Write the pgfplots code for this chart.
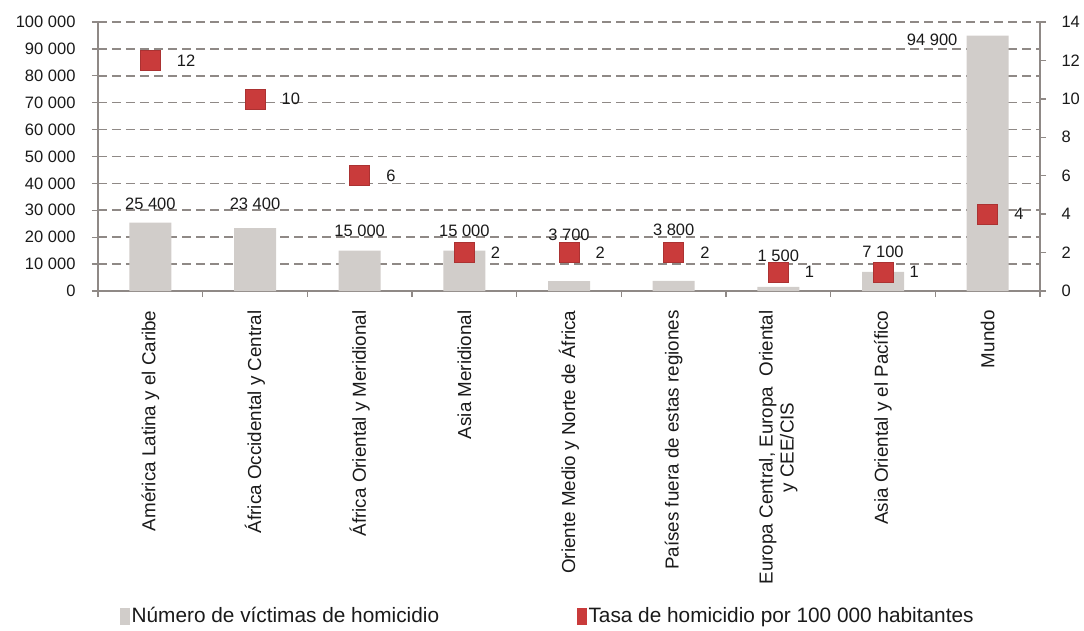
\documentclass[border=0pt]{standalone}
\usepackage{pgfplots}
\pgfplotsset{compat=1.18}
\usepackage{fontspec}
\setmainfont{Liberation Sans}
\definecolor{barcol}{HTML}{D1CDCA}
\definecolor{mkcol}{HTML}{C93B3B}
\definecolor{axcol}{HTML}{8F8986}
\definecolor{txt}{HTML}{1A1A1A}
\begin{document}
\begin{tikzpicture}
\useasboundingbox (-98pt,-340pt) rectangle (986pt,291pt);
\pgfplotsset{
  common/.style={
    scale only axis, width=942pt, height=269pt,
    xmin=-0.5, xmax=8.5,
    /pgf/number format/assume math mode=true,
    axis line style={axcol, line width=1.6pt},
    tick style={axcol, line width=1.3pt},
    tick align=outside,
    major tick length=6pt,
    minor tick length=6pt,
  },
}
\begin{axis}[common,
  axis y line*=left, axis x line*=bottom,
  ymin=0, ymax=100000,
  ytick={0,10000,...,100000},
  scaled y ticks=false,
  /pgf/number format/fixed,
  /pgf/number format/1000 sep={\ },
  yticklabel style={font=\fontsize{16.5}{18}\selectfont, text=txt},
  yticklabel shift=13pt,
  ymajorgrids,
  grid style={axcol, line width=1.6pt, dash pattern=on 9pt off 5pt},
  xtick={0,...,8},
  xticklabels={América Latina y el Caribe, África Occidental y Central, África Oriental y Meridional, Asia Meridional, Oriente Medio y Norte de África, Países fuera de estas regiones, {Europa Central, Europa\ \ Oriental\\y CEE/CIS}, Asia Oriental y el Pacífico, Mundo},
  major x tick style={draw=none},
  minor xtick={-0.5,0.5,...,8.5},
  xticklabel style={rotate=90, anchor=east, align=center, font=\fontsize{18.8}{21}\selectfont, text=txt},
  xticklabel shift=10pt,
]
\addplot[ybar, bar width=42pt, fill=barcol, draw=none] coordinates {
  (0,25400) (1,23400) (2,15000) (3,15000) (4,3700) (5,3800) (6,1500) (7,7100) (8,94900)};
\begin{scope}[every node/.style={font=\fontsize{16.5}{18}\selectfont, text=txt}]
\node at (axis cs:0,32500) {25 400};
\node at (axis cs:1,32500) {23 400};
\node at (axis cs:2,22300) {15 000};
\node at (axis cs:3,22300) {15 000};
\node at (axis cs:4,21000) {3 700};
\node at (axis cs:5,22860) {3 800};
\node at (axis cs:6,13100) {1 500};
\node at (axis cs:7,14600) {7 100};
\node at (axis cs:7.47,93300) {94 900};
\end{scope}
\end{axis}
\begin{axis}[common,
  axis y line*=right, axis x line=none,
  ymin=0, ymax=14, ytick={0,2,...,14},
  yticklabel style={font=\fontsize{16.5}{18}\selectfont, text=txt},
  yticklabel shift=12pt,
  legend style={at={(axis description cs:0.0202,-1.208)}, anchor=west, draw=none, fill=none,
    legend columns=2, font=\fontsize{20.8}{23}\selectfont, text=txt,
    /tikz/every even column/.append style={column sep=136pt}},
]
\addlegendimage{legend image code/.code={\fill[barcol] (0pt,-8pt) rectangle (9pt,8pt);}}
\addlegendentry{Número de víctimas de homicidio}
\addlegendimage{legend image code/.code={\fill[mkcol] (0pt,-8pt) rectangle (9pt,8pt);}}
\addlegendentry{Tasa de homicidio por 100 000 habitantes}
\addplot[only marks, mark=square*, mark size=10pt,
  mark options={fill=mkcol, draw=mkcol!85!black, line width=0.5pt},
  nodes near coords,
  nodes near coords style={anchor=west, xshift=23pt, font=\fontsize{16.5}{18}\selectfont, text=txt}]
  coordinates {(0,12) (1,10) (2,6) (3,2) (4,2) (5,2) (6,1) (7,1) (8,4)};
\end{axis}
\end{tikzpicture}
\end{document}
